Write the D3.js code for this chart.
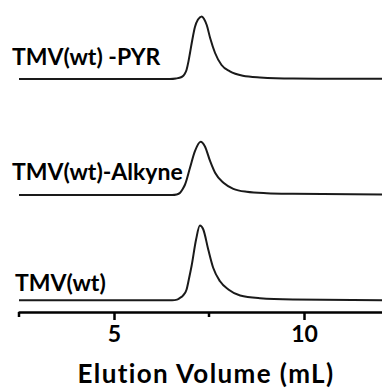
<!DOCTYPE html>
<html>
<head>
	<meta charset="utf-8">
	<title>Elution profiles</title>
	<script type="text/javascript" src="https://cdn.jsdelivr.net/npm/d3@7"></script>
	<style>
		body {
			margin: 0;
			background: #fff;
			font-family: Lato, "Open Sans", sans-serif;
		}
	</style>
</head>

<body>

	<div id="chart"></div>

	<script>

		// data (elution volume in mL, signal in arbitrary units)

		const samples = ["TMV(wt) -PYR", "TMV(wt)-Alkyne", "TMV(wt)"];
		const stackOffsets = [23.3, 11.7, 1.17];

		const volPyr    = [2.5, 6.47, 6.63, 6.78, 6.86, 6.91, 6.96, 7.0, 7.06, 7.13, 7.21, 7.31, 7.37, 7.44, 7.53, 7.66, 7.83, 8.05, 8.39, 8.84, 9.71, 12.1];
		const signalPyr = [0, 0, 0.05, 0.2, 0.5, 0.93, 1.76, 2.6, 3.9, 5.2, 5.95, 6.26, 6.0, 5.4, 4.1, 2.6, 1.4, 0.76, 0.33, 0.16, 0.05, 0.02];

		const volAlk    = [2.5, 6.53, 6.65, 6.74, 6.8, 6.87, 7.0, 7.13, 7.28, 7.39, 7.53, 7.66, 7.88, 8.14, 8.49, 9.02, 9.71, 12.1];
		const signalAlk = [0, 0, 0.05, 0.22, 0.55, 1.05, 2.72, 4.38, 5.32, 4.88, 3.38, 2.22, 1.22, 0.62, 0.32, 0.18, 0.12, 0.05];

		const volWt     = [2.5, 6.53, 6.66, 6.74, 6.82, 6.91, 6.97, 7.04, 7.16, 7.26, 7.35, 7.48, 7.61, 7.79, 8.01, 8.32, 8.84, 9.71, 12.1];
		const signalWt  = [0, 0, 0.07, 0.25, 0.5, 1.08, 2.1, 3.4, 6.08, 7.48, 7.08, 5.08, 3.25, 1.9, 1.08, 0.48, 0.21, 0.08, 0];

		const majorTicks = [5, 10];
		const minorTicks = [2.5, 7.5];
		const xLabel = "Elution Volume (mL)";

		const width  = 382;
		const height = 390;

		const traces = [
			{ vol: volPyr, sig: signalPyr },
			{ vol: volAlk, sig: signalAlk },
			{ vol: volWt,  sig: signalWt },
		];

		const x = d3.scaleLinear([2.5, 12.1], [19, 383.8]);
		const y = d3.scaleLinear([0, 31.2], [312, 0]);

		const svg = d3.select("#chart")
			.append("svg")
			.attr("width", width)
			.attr("height", height)
			.attr("viewBox", [0, 0, width, height]);

		const line = d3.line()
			.x(d => x(d[0]))
			.y(d => y(d[1]))
			.curve(d3.curveMonotoneX);

		// traces, each lifted by its stack offset
		traces.forEach((t, i) => {
			const pts = t.vol.map((v, j) => [v, t.sig[j] + stackOffsets[i]]);
			svg.append("path")
				.datum(pts)
				.attr("fill", "none")
				.attr("stroke", "#1a1a1a")
				.attr("stroke-width", 2)
				.attr("stroke-linejoin", "round")
				.attr("d", line);
		});

		// sample names sit just above each baseline
		const labelLift = [14, 15, 9];
		svg.append("g")
			.attr("font-weight", "bold")
			.attr("font-size", 23)
			.attr("fill", "#000")
			.selectAll("text")
			.data(samples)
			.join("text")
			.attr("x", (d, i) => i == 2 ? 15 : 12)
			.attr("y", (d, i) => y(stackOffsets[i]) - labelLift[i])
			.text(d => d);

		// x axis
		const axisY = y(0);
		const gx = svg.append("g")
			.attr("transform", `translate(0,${axisY})`)
			.call(d3.axisBottom(x).tickValues(majorTicks).tickSize(8).tickSizeOuter(0).tickFormat(d3.format("d")))
			.call(g => g.select(".domain").attr("stroke-width", 2.5).attr("stroke", "#000").attr("stroke-linecap", "round"))
			.call(g => g.selectAll(".tick line").attr("stroke-width", 2.5).attr("stroke", "#000"))
			.call(g => g.selectAll(".tick text")
				.attr("font-family", "Lato, sans-serif")
				.attr("font-weight", "bold")
				.attr("font-size", 23)
				.attr("fill", "#000")
				.attr("y", 30)
				.attr("dy", 0));

		gx.selectAll(".minor")
			.data(minorTicks)
			.join("line")
			.attr("class", "minor")
			.attr("x1", d => x(d))
			.attr("x2", d => x(d))
			.attr("y1", 0)
			.attr("y2", 5)
			.attr("stroke", "#000")
			.attr("stroke-width", 2.5);

		svg.append("text")
			.attr("x", 206)
			.attr("y", 383)
			.attr("text-anchor", "middle")
			.attr("font-weight", "bold")
			.attr("font-size", 26)
			.attr("letter-spacing", 1.4)
			.attr("fill", "#000")
			.text(xLabel);

	</script>

</body>

</html>
